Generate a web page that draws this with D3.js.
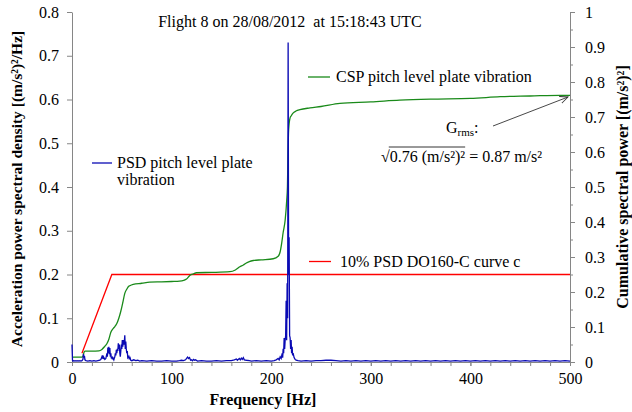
<!DOCTYPE html>
<html><head><meta charset="utf-8">
<script src="https://cdn.jsdelivr.net/npm/d3@7"></script>
<style>
body{margin:0;background:#fff;}
svg{display:block;}
</style></head>
<body>
<svg id="c" width="632" height="412" font-family="'Liberation Serif','Times New Roman','DejaVu Serif',serif"></svg>
<script>
// ---- data ----
const titleText = "Flight 8 on 28/08/2012  at 15:18:43 UTC";
const xTicks = [0,100,200,300,400,500];
const yLeftTicks = [0,0.1,0.2,0.3,0.4,0.5,0.6,0.7,0.8];
const yRightTicks = [0,0.1,0.2,0.3,0.4,0.5,0.6,0.7,0.8,0.9,1];

// PSD pitch level plate vibration [(m/s²)²/Hz] as [Hz, value]
const psdLow = [[0,0.04],[0.5,0.004],[1,0.002],[2,0.003],[3,0.002],[4,0.003],[5,0.002],[6,0.003],[7,0.002],[8,0.003],[9,0.002],[10,0.003],[11,0.006],[11.5,0.018],[12,0.01],[12.5,0.014],[13,0.005],[14,0.003],[16,0.002],[18,0.003],[20,0.002],[22,0.003],[24,0.002],[26,0.003],[28,0.004],[29,0.006]];
const psdCluster = [[30,0.012],[30.5,0.008],[31,0.015],[31.5,0.007],[32,0.01],[33,0.006],[34,0.008],[35,0.02],[35.5,0.012],[36,0.033],[36.5,0.02],[37,0.035],[37.5,0.018],[38,0.032],[38.5,0.012],[39,0.02],[39.5,0.008],[40,0.012],[40.5,0.006],[41,0.01],[42,0.005],[42.5,0.009],[43,0.012],[43.5,0.02],[44,0.015],[44.5,0.028],[45,0.02],[45.5,0.03],[46,0.025],[46.5,0.043],[47,0.03],[47.5,0.04],[48,0.02],[48.5,0.012],[49,0.025],[49.5,0.04],[50,0.03],[50.5,0.05],[51,0.035],[51.5,0.05],[52,0.04],[52.5,0.045],[53,0.061],[53.5,0.03],[54,0.047],[54.5,0.03],[55,0.02],[55.5,0.025],[56,0.01],[57,0.013],[57.5,0.006],[58,0.012],[59,0.004],[60,0.003]];
const psdMid = [[62,0.005],[64,0.003],[66,0.004],[68,0.002],[70,0.003],[75,0.002],[80,0.003],[85,0.002],[90,0.002],[95,0.003],[100,0.002],[105,0.002],[108,0.003],[110,0.004],[112,0.003],[114,0.005],[116,0.011],[117,0.008],[118,0.01],[119,0.004],[120,0.005],[121,0.003],[122,0.006],[123,0.004],[124,0.005],[126,0.002],[130,0.003],[135,0.002],[140,0.002],[145,0.003],[150,0.002],[155,0.003],[160,0.003],[163,0.005],[165,0.007],[166,0.004],[168,0.008],[169,0.005],[170,0.009],[171,0.006],[172,0.01],[173,0.005],[175,0.004],[178,0.003],[180,0.002],[185,0.003],[190,0.002],[195,0.003],[200,0.002],[203,0.003]];
const psdPeak = [[205,0.005],[207,0.008],[208,0.005],[209,0.012],[210,0.008],[211,0.02],[211.5,0.01],[212,0.03],[212.5,0.02],[213,0.055],[213.5,0.03],[214,0.05],[214.5,0.06],[215,0.14],[215.5,0.05],[216,0.18],[216.5,0.1],[217,0.73],[217.5,0.2],[218,0.285],[218.5,0.06],[219,0.055],[219.5,0.03],[220,0.05],[220.5,0.02],[221,0.035],[221.5,0.015],[222,0.02],[223,0.01],[224,0.006],[225,0.004],[227,0.003]];
const psdHigh = [[230,0.002],[235,0.003],[240,0.002],[245,0.003],[250,0.003],[255,0.004],[260,0.004],[265,0.003],[270,0.002],[275,0.003],[280,0.002],[285,0.003],[290,0.002],[295,0.003],[300,0.002],[305,0.003],[310,0.002],[315,0.003],[320,0.002],[325,0.003],[330,0.002],[335,0.003],[340,0.002],[345,0.003],[350,0.002],[355,0.003],[360,0.002],[365,0.003],[370,0.002],[375,0.003],[380,0.002],[385,0.003],[390,0.002],[395,0.003],[400,0.002],[405,0.003],[410,0.002],[415,0.003],[420,0.002],[425,0.003],[430,0.002],[435,0.003],[440,0.002],[445,0.003],[450,0.002],[455,0.003],[460,0.002],[465,0.003],[470,0.002],[475,0.003],[480,0.002],[485,0.003],[490,0.002],[495,0.003],[500,0.002]];

// CSP pitch level plate vibration [(m/s²)²] (right axis) as [Hz, value]
const cspLow = [[0,0.014],[10,0.014],[11,0.016],[12,0.027],[13,0.031],[20,0.031],[27,0.032],[30,0.036],[33,0.045],[35,0.052],[37,0.065],[39,0.085],[41.5,0.096],[43,0.101],[45,0.11],[47,0.125],[49,0.145],[50,0.157],[51,0.17],[53,0.196],[55,0.208],[56.5,0.215],[58,0.218],[61.5,0.222]];
const cspMid = [[70,0.225],[78,0.228],[90,0.229],[100,0.23],[108,0.231],[112,0.233],[115,0.237],[118.5,0.248],[122,0.252],[125,0.255],[140,0.256],[158.5,0.258],[164,0.263],[168.5,0.272],[172,0.277],[175,0.283],[178,0.287],[182,0.29],[190,0.292],[202,0.295],[207,0.302],[209,0.315],[210.5,0.339],[212,0.37],[214,0.405],[215.6,0.463],[216.3,0.5]];
const cspHigh = [[216.9,0.6],[217.5,0.663],[218.9,0.697],[220,0.703],[221.9,0.711],[224.9,0.717],[228.9,0.721],[239,0.726],[250,0.73],[269,0.739],[300,0.743],[329,0.748],[360,0.751],[400,0.753],[430,0.758],[460,0.76],[490,0.762],[500,0.762]];

// 10% PSD DO160-C curve c [(m/s²)²/Hz] as [Hz, value]
const doCurve = [[10,0.02],[40,0.2],[500,0.2]];

// ---- chart ----
const FONT = "'Liberation Serif','Times New Roman','DejaVu Serif',serif";
const svg = d3.select("#c");
const x = d3.scaleLinear().domain([0,500]).range([72,570]);
const yL = d3.scaleLinear().domain([0,0.8]).range([362,12]);
const yR = d3.scaleLinear().domain([0,1]).range([362,12]);
const axisCol = "#868686";

function styleAxis(g){
  g.attr("font-family",FONT).attr("font-size",16);
  g.select(".domain").attr("stroke",axisCol).attr("stroke-width",1);
  g.selectAll(".tick line").attr("stroke",axisCol);
  g.selectAll(".tick text").attr("fill","#000");
}

svg.append("g").attr("transform","translate(0,362)")
  .call(d3.axisBottom(x).tickValues(d3.range(0,501,20)).tickSize(4).tickSizeOuter(0).tickFormat(""))
  .call(styleAxis);
svg.append("g").attr("transform","translate(0,362)")
  .call(d3.axisBottom(x).tickValues(xTicks).tickSize(4).tickPadding(7).tickSizeOuter(0).tickFormat(d3.format("d")))
  .call(styleAxis);

svg.append("g").attr("transform","translate(72,0)")
  .call(d3.axisLeft(yL).tickValues(yLeftTicks).tickSize(5).tickPadding(8).tickSizeOuter(0).tickFormat(d=>d===0?"0":d3.format(".1f")(d)))
  .call(styleAxis);

svg.append("g").attr("transform","translate(570,0)")
  .call(d3.axisRight(yR).tickValues(d3.range(0,1.0001,0.05)).tickSize(3).tickSizeOuter(0).tickFormat(""))
  .call(styleAxis);
svg.append("g").attr("transform","translate(570,0)")
  .call(d3.axisRight(yR).tickValues(yRightTicks).tickSize(5).tickPadding(10).tickSizeOuter(0).tickFormat(d=>(d===0||d===1)?String(d):d3.format(".1f")(d)))
  .call(styleAxis);

// series
const psdData = [].concat(psdLow, psdCluster, psdMid, psdPeak, psdHigh);
const cspData = [].concat(cspLow, cspMid, cspHigh);

svg.append("path").datum(doCurve)
  .attr("d",d3.line().x(d=>x(d[0])).y(d=>yL(d[1])))
  .attr("fill","none").attr("stroke","#ff0000").attr("stroke-width",1.3);
svg.append("path").datum(cspData)
  .attr("d",d3.line().x(d=>x(d[0])).y(d=>yR(d[1])).curve(d3.curveMonotoneX))
  .attr("fill","none").attr("stroke","#1a8a1a").attr("stroke-width",1.3);
svg.append("path").datum(psdData)
  .attr("d",d3.line().x(d=>x(d[0])).y(d=>yL(d[1])))
  .attr("fill","none").attr("stroke","#0a0ab4").attr("stroke-width",1.3);

function txt(){ return svg.append("text").attr("font-family",FONT).attr("fill","#000"); }

// title
txt().attr("x",290).attr("y",27).attr("text-anchor","middle").attr("font-size",16)
  .style("white-space","pre").text(titleText);

// axis titles
txt().attr("transform","translate(22,189) rotate(-90)").attr("text-anchor","middle")
  .attr("font-size",15.5).attr("font-weight","bold").text("Acceleration power spectral density [(m/s²)²/Hz]");
txt().attr("transform","translate(628,187) rotate(-90)").attr("text-anchor","middle")
  .attr("font-size",16).attr("font-weight","bold").text("Cumulative spectral power [(m/s²)²]");
txt().attr("x",263).attr("y",405).attr("text-anchor","middle")
  .attr("font-size",16).attr("font-weight","bold").text("Frequency [Hz]");

// legend-like labels
svg.append("line").attr("x1",92).attr("x2",112).attr("y1",163).attr("y2",163).attr("stroke","#0a0ab4").attr("stroke-width",1.3);
txt().attr("x",117).attr("y",168).attr("font-size",16).text("PSD pitch level plate");
txt().attr("x",117).attr("y",185).attr("font-size",16).text("vibration");

svg.append("line").attr("x1",308).attr("x2",330).attr("y1",77).attr("y2",77).attr("stroke","#1a8a1a").attr("stroke-width",1.3);
txt().attr("x",336).attr("y",82).attr("font-size",16).text("CSP pitch level plate vibration");

svg.append("line").attr("x1",309).attr("x2",331).attr("y1",261.5).attr("y2",261.5).attr("stroke","#ff0000").attr("stroke-width",1.3);
txt().attr("x",340).attr("y",267).attr("font-size",16).text("10% PSD DO160-C curve c");

// G_rms annotation
const g1 = txt().attr("x",446).attr("y",133).attr("font-size",16);
g1.append("tspan").text("G");
g1.append("tspan").attr("font-size",11).attr("dy",3).text("rms");
g1.append("tspan").attr("dy",-3).text(":");

const g2 = txt().attr("x",381).attr("y",162).attr("font-size",16).text("√0.76 (m/s²)² = 0.87 m/s²");
const n2 = g2.node();
const ox1 = n2.getStartPositionOfChar(1).x;
const ox2 = n2.getEndPositionOfChar(12).x;
svg.append("line").attr("x1",ox1-1).attr("x2",ox2).attr("y1",147).attr("y2",147).attr("stroke","#000").attr("stroke-width",0.8);

// arrow
const defs = svg.append("defs");
defs.append("marker").attr("id","ah").attr("viewBox","0 0 10 10").attr("refX",9).attr("refY",5)
  .attr("markerWidth",9).attr("markerHeight",9).attr("orient","auto").attr("markerUnits","userSpaceOnUse")
  .append("path").attr("d","M0,1 L9,5 L0,9").attr("fill","none").attr("stroke","#333").attr("stroke-width",1);
svg.append("line").attr("x1",493).attr("y1",126).attr("x2",568).attr("y2",97)
  .attr("stroke","#333").attr("stroke-width",0.9).attr("marker-end","url(#ah)");
</script>
</body></html>
